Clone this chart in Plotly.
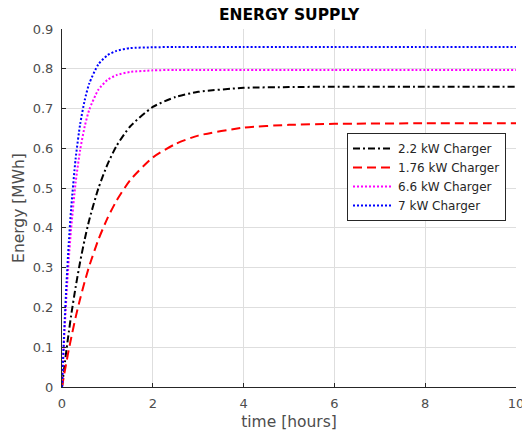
import plotly.graph_objects as go

time_h = [0, 0.05, 0.1, 0.15, 0.2, 0.3, 0.4, 0.5, 0.6, 0.8, 1.0, 1.2, 1.5, 2.0, 2.5, 3.0, 4.0, 5.0, 6.0, 8.0, 10.0]
e_2_2kw = [0, 0.049, 0.095, 0.138, 0.179, 0.251, 0.315, 0.371, 0.420, 0.499, 0.559, 0.606, 0.655, 0.704, 0.729, 0.742, 0.752, 0.754, 0.755, 0.755, 0.755]
e_1_76kw = [0, 0.033, 0.064, 0.094, 0.122, 0.175, 0.222, 0.265, 0.304, 0.370, 0.424, 0.468, 0.520, 0.577, 0.611, 0.632, 0.652, 0.659, 0.6615, 0.663, 0.663]
e_6_6kw = [0, 0.126, 0.233, 0.322, 0.397, 0.514, 0.596, 0.655, 0.697, 0.747, 0.772, 0.784, 0.792, 0.796, 0.797, 0.797, 0.797, 0.797, 0.797, 0.797, 0.797]
e_7kw = [0, 0.144, 0.264, 0.364, 0.447, 0.574, 0.661, 0.721, 0.763, 0.811, 0.834, 0.845, 0.852, 0.854, 0.855, 0.855, 0.855, 0.855, 0.855, 0.855, 0.855]

names = ["2.2 kW Charger", "1.76 kW Charger", "6.6 kW Charger", "7 kW Charger"]
series = [e_2_2kw, e_1_76kw, e_6_6kw, e_7kw]
colors = ["#000000", "#ff0000", "#ff00ff", "#0000ff"]
dashes = ["7px,3px,2px,3px", "9px,5px", "2px,2px", "2px,2px"]

x_ticks = [0, 2, 4, 6, 8, 10]
y_ticks = [0, 0.1, 0.2, 0.3, 0.4, 0.5, 0.6, 0.7, 0.8, 0.9]

fig = go.Figure()
for name, ys, c, d in zip(names, series, colors, dashes):
    fig.add_trace(go.Scatter(x=time_h, y=ys, name=name, mode="lines",
                             line=dict(color=c, width=2, dash=d, shape="spline", smoothing=0.6)))

font_family = "DejaVu Sans"
fig.update_layout(
    width=522, height=433,
    margin=dict(l=62, r=6, t=29, b=46, autoexpand=False),
    paper_bgcolor="white", plot_bgcolor="white",
    font=dict(family=font_family, color="#262626"),
    title=dict(text="<b>ENERGY SUPPLY</b>", x=(62 + 516) / 2 / 522, xanchor="center",
               y=1 - 15 / 433, yanchor="middle", font=dict(size=15.5, color="#000000")),
    showlegend=True,
    legend=dict(x=(347 - 62) / 454, y=(387 - 133) / 358, xanchor="left", yanchor="top",
                bgcolor="white", bordercolor="#262626", borderwidth=1,
                font=dict(size=12, color="#262626"), itemwidth=40,
                tracegroupgap=0),
)
fig.update_xaxes(range=[0, 10], tickvals=x_ticks, ticktext=[str(v) for v in x_ticks],
                 automargin=False, ticklabeloverflow="allow", ticklabelstandoff=4,
                 showgrid=True, gridcolor="#dedede", gridwidth=1,
                 showline=True, linecolor="#262626", linewidth=1,
                 ticks="inside", ticklen=4, tickcolor="#262626",
                 tickfont=dict(size=13, color="#4d4d4d"), zeroline=False,
                 title=dict(text="time [hours]", font=dict(size=15.5, color="#4d4d4d"), standoff=6))
fig.update_yaxes(range=[0, 0.9], tickvals=y_ticks, ticktext=["0"] + ["%.1f" % v for v in y_ticks[1:]],
                 automargin=False, ticklabeloverflow="allow", ticklabelstandoff=5,
                 showgrid=True, gridcolor="#dedede", gridwidth=1,
                 showline=True, linecolor="#262626", linewidth=1,
                 ticks="inside", ticklen=4, tickcolor="#262626",
                 tickfont=dict(size=13, color="#4d4d4d"), zeroline=False,
                 title=dict(text="Energy [MWh]", font=dict(size=15.5, color="#4d4d4d"), standoff=4))

fig.write_html("out.html", config={"displayModeBar": False},
               post_script="document.body.style.margin='0';")
